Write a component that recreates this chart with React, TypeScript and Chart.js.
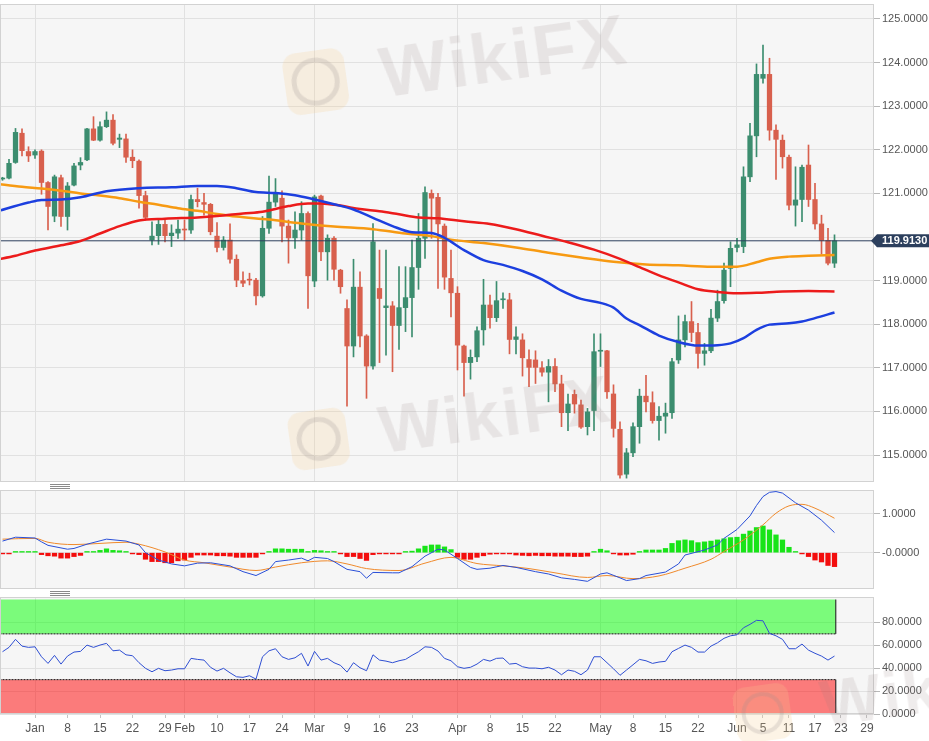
import React, { useEffect, useRef } from "react";
import { Chart, registerables } from "chart.js";

Chart.register(...registerables);

const FONT = '"Liberation Sans", Arial, Helvetica, sans-serif';
Chart.defaults.font.family = FONT;

// ---- axis ranges (trading-day index, 0 = 1 Jan) ----
const FIRST_DAY = -5;
const X_MIN = -5.385;
const X_MAX = 129.077;

// ---- daily candles, from 25 Dec to 22 Jun ----
const openP = [
  121.33, 121.35, 121.71, 122.38, 121.96, 121.88, 121.97, 121.25, 120.48, 121.36,
  120.47, 121.19, 121.65, 121.77, 122.48, 122.22, 122.53, 122.68, 122.24, 122.25,
  121.83, 121.74, 120.95, 119.93, 120.03, 120.29, 120.03, 120.09, 120.18, 120.16,
  120.86, 120.79, 120.75, 120.02, 119.76, 119.93, 119.49, 119.0, 119.03, 119.01,
  118.65, 120.2, 120.8, 120.89, 120.25, 119.98, 120.16, 120.54, 118.99, 120.94,
  119.66, 119.97, 119.24, 118.36, 117.5, 118.85, 117.73, 117.04, 118.82, 118.38,
  118.42, 117.97, 118.38, 118.61, 119.3, 119.97, 121.0, 120.91, 120.25, 119.05,
  118.71, 117.5, 117.12, 117.25, 117.87, 118.44, 118.15, 118.56, 118.56, 117.65,
  117.64, 117.19, 117.18, 117.0, 116.9, 117.03, 116.63, 115.97, 116.39, 116.15,
  115.65, 116.02, 117.38, 117.39, 116.4, 115.59, 114.56, 115.05, 115.65, 116.35,
  116.2, 115.79, 115.89, 115.97, 117.18, 117.64, 118.06, 117.81, 117.33, 117.39,
  118.14, 118.54, 119.28, 119.76, 119.78, 121.38, 122.32, 123.64, 123.73, 122.45,
  122.22, 121.83, 120.73, 120.86, 121.65, 120.86, 120.3, 119.92, 119.4,
];
const highP = [
  121.37, 121.78, 122.49, 122.48, 122.07, 122.0, 122.0, 121.27, 121.42, 121.42,
  121.25, 121.69, 121.82, 122.49, 122.76, 122.64, 122.87, 122.81, 122.36, 122.36,
  122.0, 121.77, 121.05, 120.35, 120.39, 120.39, 120.28, 120.39, 120.39, 120.96,
  121.12, 121.0, 120.77, 120.33, 120.01, 120.3, 119.59, 119.2, 119.17, 119.05,
  120.47, 121.4, 121.34, 121.06, 120.39, 120.58, 120.81, 120.58, 120.96, 120.96,
  120.05, 120.01, 119.26, 118.56, 119.49, 119.2, 117.76, 120.31, 119.7, 119.7,
  118.52, 119.32, 119.32, 119.93, 120.54, 121.15, 121.08, 121.0, 120.3, 119.7,
  118.86, 117.52, 117.41, 117.94, 119.03, 118.67, 118.98, 118.72, 118.71, 117.94,
  117.78, 117.41, 117.39, 117.14, 117.19, 117.21, 116.83, 116.4, 116.49, 116.26,
  116.07, 117.78, 117.78, 117.4, 116.61, 115.76, 115.15, 115.74, 116.51, 116.83,
  116.45, 116.11, 116.19, 117.22, 118.19, 118.21, 118.52, 118.02, 117.56, 118.34,
  118.78, 119.4, 119.89, 119.97, 121.61, 122.61, 123.97, 124.4, 124.1, 122.57,
  122.34, 121.88, 121.61, 121.65, 122.11, 121.23, 120.5, 120.2, 120.05,
];
const lowP = [
  121.3, 121.33, 121.69, 121.86, 121.73, 121.8, 120.98, 120.16, 120.35, 120.24,
  120.16, 121.17, 121.54, 121.75, 122.21, 122.2, 122.51, 122.11, 122.05, 121.71,
  121.59, 120.66, 120.39, 119.82, 119.83, 119.89, 119.78, 119.97, 119.93, 120.08,
  120.69, 120.5, 120.05, 119.66, 119.7, 119.4, 118.86, 118.86, 118.9, 118.44,
  118.62, 120.08, 120.7, 119.89, 119.4, 119.74, 119.93, 118.36, 118.86, 119.46,
  119.01, 119.01, 118.71, 116.12, 117.25, 117.48, 116.3, 116.97, 117.12, 117.29,
  116.91, 117.42, 117.83, 117.71, 118.8, 119.51, 119.97, 118.82, 118.8, 118.17,
  116.95, 116.35, 116.74, 117.14, 117.52, 117.91, 118.06, 118.36, 117.32, 117.32,
  116.81, 116.57, 116.64, 116.81, 116.22, 116.45, 115.65, 115.56, 115.96, 115.61,
  115.46, 115.56, 117.03, 116.3, 115.41, 114.47, 114.47, 114.96, 115.27, 115.99,
  115.73, 115.34, 115.5, 115.84, 117.1, 117.48, 117.6, 116.99, 117.06, 117.35,
  118.06, 118.48, 118.86, 119.66, 119.64, 121.27, 121.84, 123.53, 122.22, 121.32,
  121.58, 120.62, 120.25, 120.35, 120.7, 120.18, 119.61, 119.36, 119.3,
];
const closeP = [
  121.34, 121.69, 122.4, 121.98, 121.86, 121.96, 121.25, 120.7, 121.38, 120.47,
  121.17, 121.63, 121.71, 122.48, 122.22, 122.53, 122.68, 122.15, 122.27, 121.83,
  121.75, 120.95, 120.45, 120.02, 120.29, 120.03, 120.09, 120.18, 120.16, 120.86,
  120.81, 120.75, 120.12, 119.76, 119.93, 119.49, 119.01, 118.94, 119.01, 118.65,
  120.2, 120.8, 121.0, 120.25, 119.98, 120.16, 120.54, 119.11, 120.92, 119.66,
  119.97, 119.26, 118.86, 117.5, 118.85, 117.73, 117.04, 119.89, 118.59, 118.42,
  117.97, 118.38, 118.61, 119.3, 119.97, 121.02, 120.89, 120.3, 119.08, 118.72,
  117.52, 117.12, 117.24, 117.85, 118.44, 118.15, 118.54, 118.58, 117.65, 117.71,
  117.23, 117.01, 117.01, 116.9, 117.03, 116.63, 115.97, 116.17, 116.17, 115.64,
  115.99, 117.37, 117.4, 116.45, 115.61, 114.54, 115.05, 115.65, 116.35, 116.22,
  115.79, 115.89, 115.96, 117.14, 117.64, 118.06, 117.81, 117.33, 117.39, 118.14,
  118.52, 119.24, 119.74, 119.82, 121.38, 122.32, 123.73, 123.73, 122.45, 122.24,
  121.84, 120.73, 120.85, 121.6, 120.86, 120.3, 119.92, 119.4, 119.913,
];
const lastClose = 119.913;
const lastCloseLabel = "119.9130";

// ---- moving averages (read at sample days) ----
const maBlueDay = [-6, -1, 1, 4, 7, 11, 16, 21, 25, 28, 31, 34, 37, 40, 43, 46, 49, 52, 55, 58, 61, 63, 66, 69, 72, 75, 78, 81, 84, 87, 89, 91, 93, 96, 99, 102, 105, 107, 109, 111, 113, 116, 118, 120, 123];
const maBlueVal = [120.58, 120.79, 120.85, 120.86, 120.91, 121.05, 121.12, 121.14, 121.17, 121.17, 121.12, 121.03, 121.01, 120.96, 120.86, 120.75, 120.63, 120.44, 120.25, 120.11, 120.09, 119.98, 119.7, 119.47, 119.36, 119.22, 119.03, 118.77, 118.58, 118.49, 118.38, 118.13, 117.98, 117.74, 117.59, 117.51, 117.52, 117.56, 117.68, 117.87, 117.99, 118.02, 118.06, 118.14, 118.27];
const maRedDay = [-6, -3, 0, 4, 7, 10, 13, 16, 20, 25, 28, 32, 35, 39, 42, 44, 47, 50, 53, 56, 59, 62, 66, 70, 74, 78, 82, 86, 90, 93, 96, 99, 102, 105, 108, 111, 115, 119, 123];
const maRedVal = [119.48, 119.57, 119.69, 119.81, 119.91, 120.08, 120.25, 120.38, 120.42, 120.45, 120.48, 120.54, 120.58, 120.71, 120.77, 120.77, 120.72, 120.64, 120.59, 120.52, 120.45, 120.43, 120.36, 120.3, 120.18, 120.03, 119.88, 119.71, 119.5, 119.31, 119.12, 118.96, 118.8, 118.74, 118.71, 118.72, 118.75, 118.76, 118.75];
const maOrangeDay = [-6, -2, 1, 4, 7, 10, 13, 16, 19, 22, 25, 28, 31, 36, 41, 46, 52, 57, 61, 64, 69, 74, 79, 84, 89, 94, 99, 104, 108, 111, 113, 116, 119, 123];
const maOrangeVal = [121.22, 121.15, 121.11, 121.06, 121.0, 120.95, 120.89, 120.81, 120.74, 120.66, 120.6, 120.53, 120.47, 120.4, 120.31, 120.24, 120.18, 120.08, 120.02, 119.94, 119.86, 119.76, 119.64, 119.53, 119.43, 119.37, 119.35, 119.32, 119.32, 119.42, 119.5, 119.55, 119.57, 119.59];

// ---- MACD ----
const macdDay = [-5, -4, -3, 0, 1, 2, 5, 6, 8, 11, 14, 16, 17, 19, 21, 23, 25, 27, 30, 32, 34, 36, 37, 39, 41, 42, 43, 45, 46, 48, 50, 51, 52, 55, 56, 58, 60, 62, 63, 65, 67, 68, 70, 72, 74, 77, 79, 81, 83, 85, 87, 88, 90, 91, 93, 94, 97, 99, 100, 103, 105, 106, 108, 110, 111, 112, 113, 114, 115, 117, 119, 121, 123];
const macdVal = [0.3, 0.35, 0.4, 0.38, 0.28, 0.19, 0.09, 0.11, 0.22, 0.35, 0.3, 0.2, 0.0, -0.19, -0.29, -0.34, -0.27, -0.26, -0.34, -0.49, -0.59, -0.43, -0.23, -0.19, -0.14, -0.21, -0.12, -0.15, -0.23, -0.43, -0.49, -0.66, -0.51, -0.52, -0.52, -0.36, -0.09, 0.09, 0.07, -0.15, -0.38, -0.43, -0.4, -0.33, -0.38, -0.49, -0.55, -0.65, -0.69, -0.74, -0.55, -0.52, -0.65, -0.72, -0.67, -0.59, -0.5, -0.29, -0.06, 0.07, 0.2, 0.37, 0.6, 0.95, 1.22, 1.45, 1.56, 1.58, 1.54, 1.29, 1.1, 0.84, 0.52];
const signalDay = [-5, 0, 2, 6, 10, 14, 16, 20, 23, 26, 30, 34, 37, 41, 45, 48, 51, 56, 60, 64, 67, 68, 72, 76, 80, 85, 88, 92, 96, 100, 104, 106, 109, 112, 114, 116, 118, 120, 123];
const signalVal = [0.35, 0.37, 0.27, 0.21, 0.24, 0.27, 0.22, 0.02, -0.19, -0.26, -0.37, -0.46, -0.37, -0.26, -0.21, -0.29, -0.41, -0.46, -0.27, -0.12, -0.24, -0.28, -0.34, -0.41, -0.52, -0.64, -0.59, -0.67, -0.6, -0.4, -0.17, 0.03, 0.33, 0.72, 1.02, 1.21, 1.25, 1.15, 0.89];
const histVal = [
  -0.01, -0.01, 0.01, 0.01, 0.01, 0.01, -0.05, -0.08, -0.09, -0.14,
  -0.14, -0.1, -0.07, 0.01, 0.03, 0.06, 0.1, 0.06, 0.05, 0.02,
  -0.01, -0.05, -0.17, -0.23, -0.23, -0.26, -0.26, -0.21, -0.19, -0.12,
  -0.06, -0.06, -0.06, -0.08, -0.08, -0.09, -0.12, -0.12, -0.12, -0.12,
  -0.02, 0.03, 0.1, 0.1, 0.09, 0.09, 0.09, 0.03, 0.06, 0.05,
  0.03, 0.01, -0.01, -0.1, -0.1, -0.15, -0.2, -0.05, -0.03, -0.03,
  -0.03, -0.02, 0.01, 0.04, 0.1, 0.17, 0.2, 0.2, 0.15, 0.08,
  -0.12, -0.17, -0.17, -0.12, -0.08, -0.04, -0.01, -0.02, -0.02, -0.06,
  -0.07, -0.08, -0.07, -0.08, -0.08, -0.09, -0.09, -0.09, -0.1, -0.1,
  -0.09, 0.01, 0.09, 0.05, -0.01, -0.06, -0.06, -0.04, 0.01, 0.07,
  0.07, 0.07, 0.11, 0.24, 0.31, 0.33, 0.31, 0.26, 0.28, 0.3,
  0.33, 0.36, 0.39, 0.4, 0.48, 0.56, 0.65, 0.69, 0.59, 0.46,
  0.33, 0.14, 0.03, -0.03, -0.1, -0.19, -0.24, -0.33, -0.36,
];

// ---- RSI ----
const rsiVal = [
  54.4, 58.2, 65.2, 59.3, 58.2, 58.7, 50.0, 44.2, 51.2, 43.6,
  50.6, 54.1, 54.7, 60.2, 58.2, 60.2, 61.7, 55.2, 55.8, 51.7,
  50.9, 44.8, 39.9, 36.9, 39.9, 37.8, 38.4, 39.5, 39.5, 48.6,
  47.7, 47.1, 40.8, 37.5, 39.9, 36.0, 32.5, 32.0, 33.4, 30.5,
  50.0, 55.2, 57.0, 50.0, 47.7, 49.1, 53.0, 41.9, 54.7, 47.1,
  48.6, 44.8, 42.5, 36.6, 44.8, 40.4, 37.8, 51.7, 47.1, 46.2,
  44.8, 46.5, 47.7, 51.2, 54.4, 58.7, 58.2, 55.0, 48.6, 46.5,
  41.3, 39.9, 40.8, 43.6, 47.7, 46.2, 48.6, 48.9, 43.6, 44.2,
  41.3, 40.1, 40.1, 39.5, 40.8, 38.4, 34.3, 38.4, 37.3, 34.3,
  38.4, 50.0, 50.0, 44.8, 39.5, 33.8, 38.4, 43.0, 47.7, 46.5,
  44.2, 45.4, 46.0, 54.4, 57.3, 60.2, 58.2, 54.1, 54.1, 59.3,
  62.2, 66.1, 68.3, 69.2, 75.3, 78.3, 81.8, 81.4, 70.4, 68.3,
  65.2, 57.0, 57.0, 61.1, 55.8, 53.0, 50.6, 47.1, 50.6,
];
const rsiUpper = 70;
const rsiLower = 30;
const rsiTop = 100;
const rsiBottom = 0;

// ---- ticks ----
const xTickDay = [0, 5, 10, 15, 20, 23, 28, 33, 38, 43, 48, 53, 58, 65, 70, 75, 80, 87, 92, 97, 102, 108, 112, 116, 120, 124, 128];
const xTickLabels = ["Jan", "8", "15", "22", "29", "Feb", "10", "17", "24", "Mar", "9", "16", "23", "Apr", "8", "15", "22", "May", "8", "15", "22", "Jun", "5", "11", "17", "23", "29"];
const monthDay = [0, 23, 43, 65, 87, 108];
const priceTicks = [115, 116, 117, 118, 119, 120, 121, 122, 123, 124, 125];
const priceTickLabels = ["115.0000", "116.0000", "117.0000", "118.0000", "119.0000", "", "121.0000", "122.0000", "123.0000", "124.0000", "125.0000"];
const macdTicks = [0, 1];
const macdTickLabels = ["-0.0000", "1.0000"];
const rsiTicks = [0, 20, 40, 60, 80];
const rsiTickLabels = ["0.0000", "20.0000", "40.0000", "60.0000", "80.0000"];

// ---- colours ----
const UP = "#3c8d6f";
const DOWN = "#d8604d";
const GRID = "#e1e1e1";
const PANEL = "#f6f6f6";
const NAVY = "#2c3f5d";

const dayOf = (k: number) => FIRST_DAY + k;
const pts = (xs: number[], ys: number[]) => xs.map((x, k) => ({ x, y: ys[k] }));

const panelPlugin = {
  id: "panelFrame",
  beforeDraw(chart: any) {
    const { ctx, chartArea: a } = chart;
    ctx.save();
    ctx.fillStyle = PANEL;
    ctx.fillRect(a.left, a.top, a.right - a.left, a.bottom - a.top);
    ctx.restore();
  },
  afterDraw(chart: any) {
    const { ctx, chartArea: a } = chart;
    ctx.save();
    ctx.strokeStyle = "#d2d2d2";
    ctx.lineWidth = 1;
    ctx.strokeRect(a.left + 0.5, a.top + 0.5, a.right - a.left - 1, a.bottom - a.top - 1);
    ctx.restore();
  },
};

const tagPlugin = {
  id: "lastTag",
  afterDraw(chart: any) {
    const { ctx, chartArea: a } = chart;
    const y = chart.scales.y.getPixelForValue(lastClose);
    const right = chart.width;
    const h = 6.5;
    ctx.save();
    ctx.fillStyle = NAVY;
    ctx.beginPath();
    ctx.moveTo(a.right - 3, y);
    ctx.lineTo(a.right + 3, y - h);
    ctx.lineTo(right, y - h);
    ctx.lineTo(right, y + h);
    ctx.lineTo(a.right + 3, y + h);
    ctx.closePath();
    ctx.fill();
    ctx.fillStyle = "#ffffff";
    ctx.font = `bold 11px ${FONT}`;
    ctx.textBaseline = "middle";
    ctx.textAlign = "left";
    ctx.fillText(lastCloseLabel, a.right + 8, y + 0.5);
    ctx.restore();
  },
};

function xAxis(withLabels: boolean) {
  return {
    type: "linear",
    min: X_MIN,
    max: X_MAX,
    offset: false,
    border: { display: false },
    afterBuildTicks: (s: any) => {
      s.ticks = (withLabels ? xTickDay : monthDay).map((v) => ({ value: v }));
    },
    afterFit: (s: any) => {
      s.height = withLabels ? 27 : 0;
      s.paddingLeft = 0;
      s.paddingRight = 0;
    },
    grid: {
      offset: false,
      color: (c: any) => (c.tick && monthDay.includes(c.tick.value) ? GRID : "rgba(0,0,0,0)"),
      tickColor: "#c4c4c4",
      tickLength: 4,
      drawTicks: withLabels,
    },
    ticks: {
      display: withLabels,
      autoSkip: false,
      maxRotation: 0,
      color: "#555",
      font: { size: 12, family: FONT },
      padding: 3,
      callback: (_v: any, i: number) => xTickLabels[i],
    },
  };
}

function yAxis(min: number, max: number, vals: number[], labels: string[]) {
  return {
    position: "right",
    min,
    max,
    border: { display: false },
    afterBuildTicks: (s: any) => {
      s.ticks = vals.map((v) => ({ value: v }));
    },
    afterFit: (s: any) => {
      s.width = 55;
      s.paddingTop = 0;
      s.paddingBottom = 0;
    },
    grid: { color: GRID, tickColor: "#b8b8b8", tickLength: 6, drawTicks: true },
    ticks: {
      color: "#555",
      font: { size: 11, family: FONT },
      padding: 2,
      callback: (_v: any, i: number) => labels[i],
    },
  };
}

const common = {
  responsive: true,
  maintainAspectRatio: false,
  animation: false,
  events: [],
  plugins: { legend: { display: false }, tooltip: { enabled: false } },
};

function makeMain(canvas: HTMLCanvasElement) {
  const colors = closeP.map((c, k) => (c >= openP[k] ? UP : DOWN));
  return new Chart(canvas, {
    type: "bar",
    data: {
      datasets: [
        { type: "line", data: pts(maBlueDay, maBlueVal), borderColor: "#1c3fdf", borderWidth: 2.5, pointRadius: 0, cubicInterpolationMode: "monotone", order: 0 },
        { type: "line", data: pts(maRedDay, maRedVal), borderColor: "#ec1b1b", borderWidth: 2.5, pointRadius: 0, cubicInterpolationMode: "monotone", order: 0 },
        { type: "line", data: pts(maOrangeDay, maOrangeVal), borderColor: "#f79a12", borderWidth: 2.5, pointRadius: 0, cubicInterpolationMode: "monotone", order: 0 },
        { type: "line", data: [{ x: X_MIN - 1, y: lastClose }, { x: X_MAX + 1, y: lastClose }], borderColor: NAVY, borderWidth: 1, pointRadius: 0, order: 1 },
        { type: "bar", data: openP.map((o, k) => ({ x: dayOf(k), y: [o, closeP[k]] })), backgroundColor: colors, barThickness: 4.6, minBarLength: 1, grouped: false, borderWidth: 0, order: 2 },
        { type: "bar", data: lowP.map((l, k) => ({ x: dayOf(k), y: [l, highP[k]] })), backgroundColor: colors, barThickness: 1, grouped: false, borderWidth: 0, order: 3 },
      ],
    } as any,
    options: {
      ...common,
      layout: { padding: { top: 4, left: 0, right: 0, bottom: 0 } },
      scales: { x: xAxis(false), y: yAxis(114.381, 125.344, priceTicks, priceTickLabels) },
    } as any,
    plugins: [panelPlugin, tagPlugin],
  });
}

function makeMacd(canvas: HTMLCanvasElement) {
  return new Chart(canvas, {
    type: "bar",
    data: {
      datasets: [
        { type: "line", data: pts(macdDay, macdVal), borderColor: "#2a4fd8", borderWidth: 1, pointRadius: 0, order: 0 },
        { type: "line", data: pts(signalDay, signalVal), borderColor: "#f08a2c", borderWidth: 1, pointRadius: 0, cubicInterpolationMode: "monotone", order: 0 },
        { type: "bar", data: histVal.map((h, k) => ({ x: dayOf(k), y: h })), backgroundColor: histVal.map((h) => (h >= 0 ? "#18e418" : "#f30d0d")), barThickness: 4.6, minBarLength: 1.2, grouped: false, borderWidth: 0, order: 2 },
      ],
    } as any,
    options: {
      ...common,
      layout: { padding: { top: 1, left: 0, right: 0, bottom: 0 } },
      scales: { x: xAxis(false), y: yAxis(-0.938, 1.62, macdTicks, macdTickLabels) },
    } as any,
    plugins: [panelPlugin],
  });
}

function makeRsi(canvas: HTMLCanvasElement) {
  const lastDay = dayOf(rsiVal.length - 1) + 0.2;
  return new Chart(canvas, {
    type: "line",
    data: {
      datasets: [
        { data: rsiVal.map((v, k) => ({ x: dayOf(k), y: v })), borderColor: "#2f4fd3", borderWidth: 1, pointRadius: 0, order: 0 },
        { data: [{ x: X_MIN - 1, y: rsiUpper }, { x: lastDay, y: rsiUpper }], borderColor: "#111", borderWidth: 1, borderDash: [2, 1], pointRadius: 0, fill: { value: rsiTop }, backgroundColor: "rgba(0,255,0,0.5)", order: 2 },
        { data: [{ x: X_MIN - 1, y: rsiLower }, { x: lastDay, y: rsiLower }], borderColor: "#111", borderWidth: 1, borderDash: [2, 1], pointRadius: 0, fill: { value: rsiBottom }, backgroundColor: "rgba(255,0,0,0.5)", order: 2 },
        { data: [{ x: lastDay, y: rsiUpper }, { x: lastDay, y: rsiTop }], borderColor: "#111", borderWidth: 1, pointRadius: 0, order: 1 },
        { data: [{ x: lastDay, y: rsiBottom }, { x: lastDay, y: rsiLower }], borderColor: "#111", borderWidth: 1, pointRadius: 0, order: 1 },
      ],
    } as any,
    options: {
      ...common,
      layout: { padding: { top: 1, left: 0, right: 0, bottom: 0 } },
      scales: { x: xAxis(true), y: yAxis(0, 102.2, rsiTicks, rsiTickLabels) },
    } as any,
    plugins: [panelPlugin],
  });
}

function Handle({ top }: { top: number }) {
  const line = { height: 1, background: "#8a8a8a", marginBottom: 1 };
  return (
    <div style={{ position: "absolute", left: 50, top, width: 20 }}>
      <div style={line} />
      <div style={line} />
      <div style={line} />
    </div>
  );
}

function Watermark({ left, top, size }: { left: number; top: number; size: number }) {
  return (
    <div
      style={{
        position: "absolute",
        left,
        top,
        display: "flex",
        alignItems: "center",
        transform: "rotate(-8deg)",
        transformOrigin: "left center",
        pointerEvents: "none",
        whiteSpace: "nowrap",
      }}
    >
      <div
        style={{
          width: size,
          height: size,
          borderRadius: size * 0.22,
          background: "rgba(245,205,140,0.22)",
          display: "flex",
          alignItems: "center",
          justifyContent: "center",
        }}
      >
        <div
          style={{
            width: size * 0.6,
            height: size * 0.6,
            borderRadius: "50%",
            border: `${Math.round(size * 0.08)}px solid rgba(150,140,140,0.22)`,
          }}
        />
      </div>
      <span
        style={{
          marginLeft: size * 0.55,
          fontFamily: FONT,
          fontWeight: 700,
          fontSize: size * 1.15,
          color: "rgba(140,120,120,0.14)",
          letterSpacing: 2,
        }}
      >
        WikiFX
      </span>
    </div>
  );
}

export default function App() {
  const mainRef = useRef<HTMLCanvasElement>(null);
  const macdRef = useRef<HTMLCanvasElement>(null);
  const rsiRef = useRef<HTMLCanvasElement>(null);

  useEffect(() => {
    const charts = [
      makeMain(mainRef.current as HTMLCanvasElement),
      makeMacd(macdRef.current as HTMLCanvasElement),
      makeRsi(rsiRef.current as HTMLCanvasElement),
    ];
    return () => charts.forEach((c) => c.destroy());
  }, []);

  return (
    <div style={{ position: "fixed", left: 0, top: 0, width: 929, height: 741, background: "#fff", overflow: "hidden" }}>
      <div style={{ position: "absolute", left: 0, top: 0, width: 929, height: 482 }}>
        <canvas ref={mainRef} />
      </div>
      <div style={{ position: "absolute", left: 0, top: 489, width: 929, height: 100 }}>
        <canvas ref={macdRef} />
      </div>
      <div style={{ position: "absolute", left: 0, top: 596, width: 929, height: 145 }}>
        <canvas ref={rsiRef} />
      </div>
      <Handle top={484} />
      <Handle top={591} />
      <Watermark left={285} top={45} size={62} />
      <Watermark left={290} top={405} size={58} />
      <Watermark left={735} top={680} size={56} />
    </div>
  );
}
